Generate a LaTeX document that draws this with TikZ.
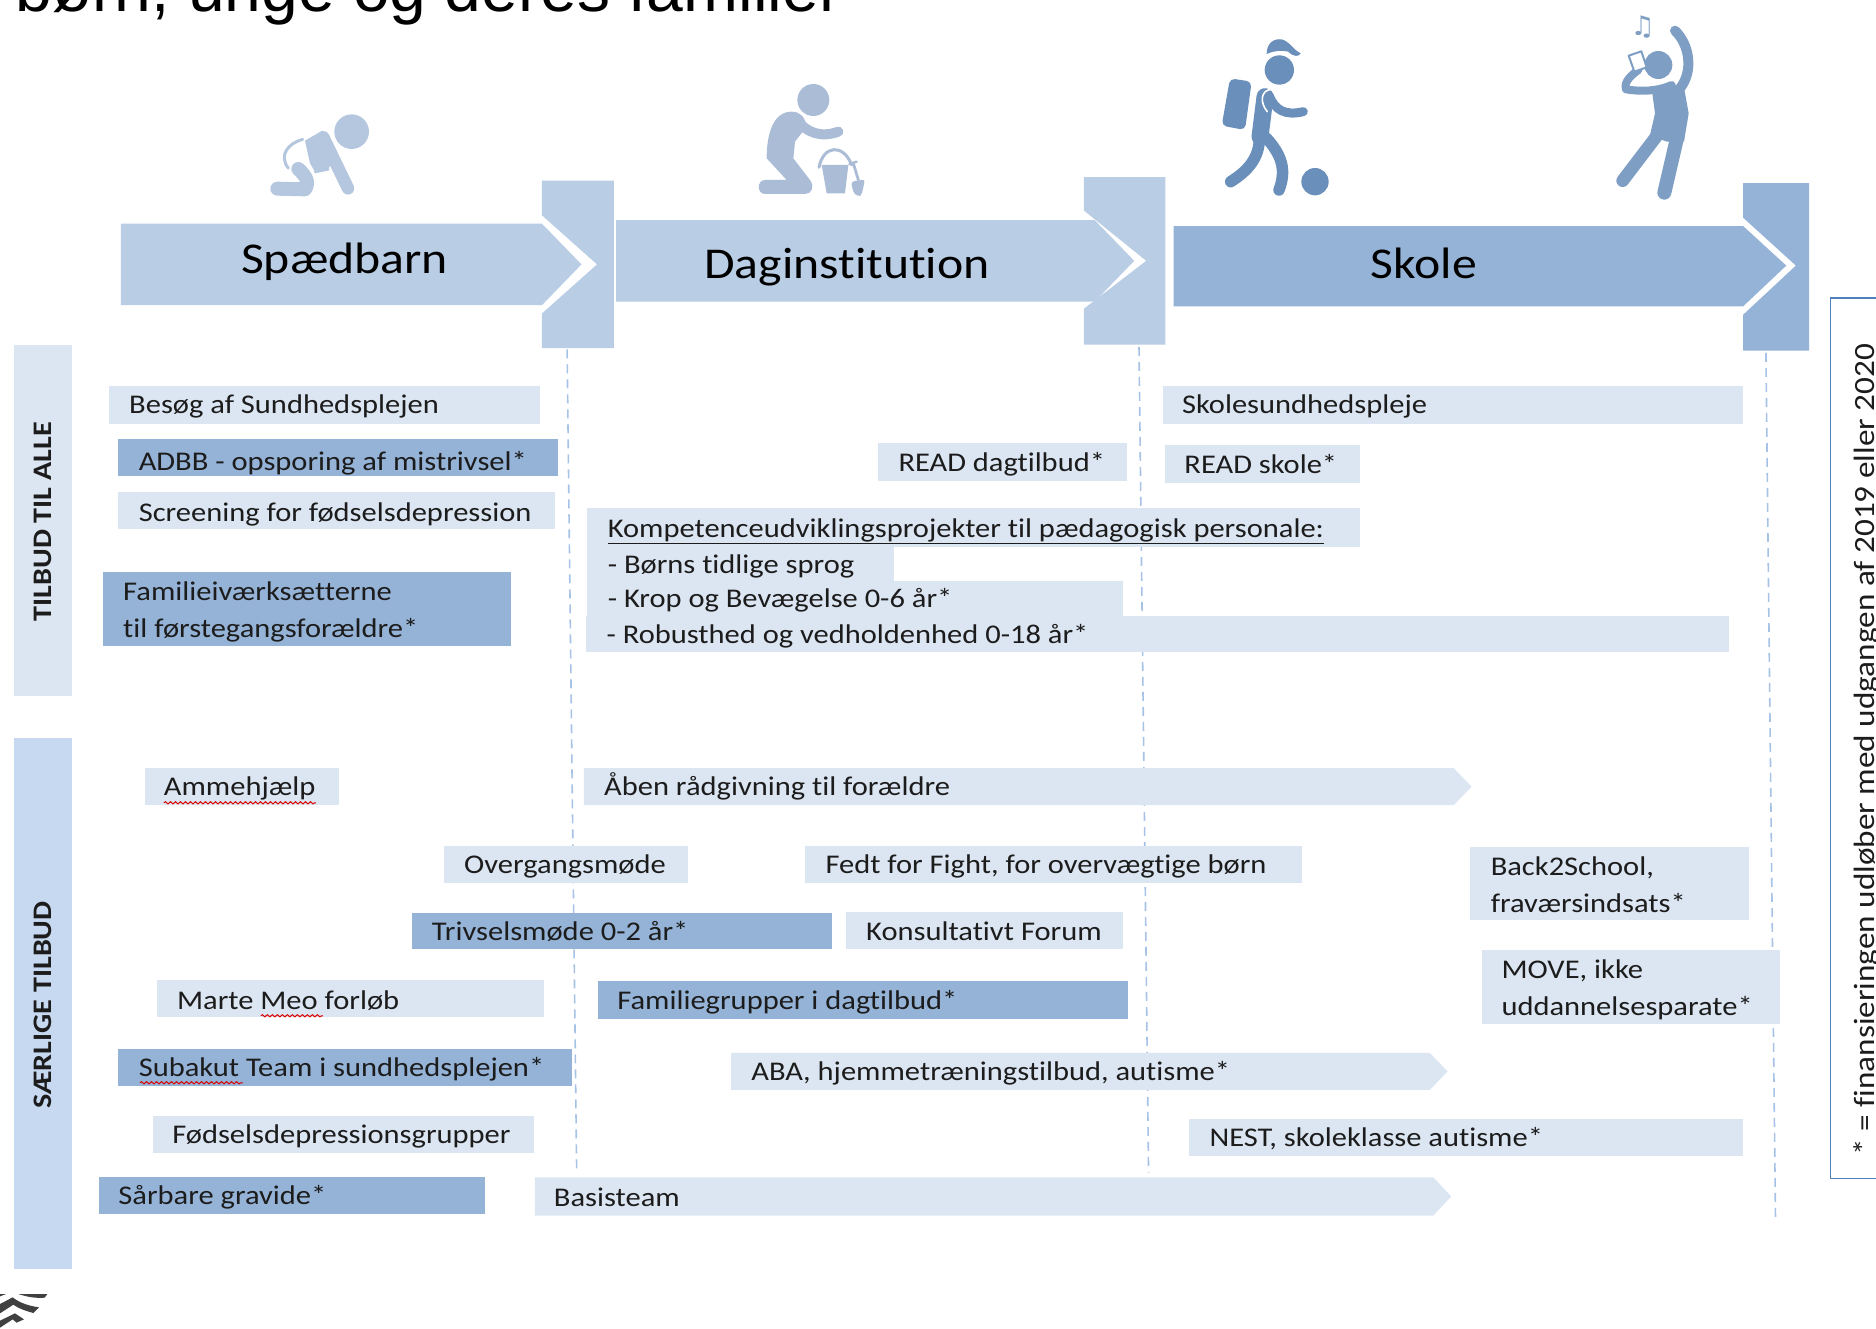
\documentclass[tikz,border=0pt]{standalone}
\usepackage{fontspec}
\usetikzlibrary{decorations.pathmorphing}
\setmainfont[FakeStretch=1.13,Ligatures=NoCommon]{Carlito}
\newfontfamily\titlefont{Liberation Sans}
\newfontfamily\symfont{DejaVu Sans}
\definecolor{lightbox}{HTML}{DCE6F2}
\definecolor{darkbox}{HTML}{95B3D7}
\definecolor{headlight}{HTML}{B9CDE5}
\definecolor{sidetop}{HTML}{DCE6F2}
\definecolor{sidebot}{HTML}{C6D9F1}
\definecolor{dashcol}{HTML}{A6C2E6}
\definecolor{framecol}{HTML}{4F81BD}
\definecolor{txt}{HTML}{1C1C1C}
\definecolor{icona}{HTML}{B5C7DF}
\definecolor{iconb}{HTML}{ABBDD6}
\definecolor{iconc}{HTML}{6A8FBB}
\definecolor{icond}{HTML}{7F9EC3}
\tikzset{
  lab/.style={anchor=base west,inner sep=0pt,outer sep=0pt,text=txt,font=\fontsize{27}{32}\selectfont},
  head/.style={anchor=base,inner sep=0pt,text=black,font=\fontsize{44}{50}\selectfont},
  sidelab/.style={rotate=90,inner sep=0pt,text=txt,font=\bfseries\fontsize{26.7}{30}\selectfont},
  dashline/.style={draw=dashcol,line width=1.6pt,dash pattern=on 9pt off 6pt},
  wavy/.style={draw=red!85!black,line width=1pt,decorate,decoration={snake,segment length=5pt,amplitude=1.1pt}},
  limb/.style={line cap=round,line join=round,line width=#1},
  icon/.style={shift={#1},x=0.33333pt,y=-0.33333pt}
}
\newcommand{\bx}[5]{\fill[#1] (#2,#3) rectangle (#4,#5);}
\newcommand{\pent}[6]{\fill[#1] (#2,#3) -- (#4,#3) -- (#6,{(#3+#5)/2}) -- (#4,#5) -- (#2,#5) -- cycle;}
\begin{document}
\begin{tikzpicture}[x=1.19643pt,y=-1.19643pt]
\useasboundingbox (0,0) rectangle (1568,1110);
\clip (0,0) rectangle (1568,1110);
% title
\node[anchor=base west,inner sep=0pt,text=black,font=\titlefont\fontsize{66}{70}\selectfont] (title) at (13,10) {børn, unge og deres familier};
% dashed guides
\draw[dashline] (474,292) -- (482,980);
\draw[dashline] (952,290) -- (960,980);
\draw[dashline] (1476,295) -- (1484,1020);
% head arrows
\fill[headlight] (101,187) -- (453,187) -- (486,221) -- (453,255) -- (101,255) -- cycle;
\fill[headlight] (453,151) -- (513,151) -- (513,291) -- (453,291) -- (453,262) -- (499,221) -- (453,180) -- cycle;
\fill[headlight] (515,184) -- (915,184) -- (948,218) -- (915,252) -- (515,252) -- cycle;
\fill[headlight] (906,148) -- (974,148) -- (974,288) -- (906,288) -- (906,258) -- (958,218) -- (906,176) -- cycle;
\fill[darkbox] (981,189) -- (1457,189) -- (1493,222) -- (1457,256) -- (981,256) -- cycle;
\fill[darkbox] (1457,153) -- (1512,153) -- (1512,293) -- (1457,293) -- (1457,263) -- (1501,222) -- (1457,182) -- cycle;
\node[head] (h1) at (288,229) {Spædbarn};
\node[head] (h2) at (708,233) {Daginstitution};
\node[head] (h3) at (1190,233) {Skole};
% side bars
\bx{sidetop}{12}{288}{60}{582}
\bx{sidebot}{12}{617}{60}{1061}
\node[sidelab] (s1) at (36,436) {TILBUD TIL ALLE};
\node[sidelab] (s2) at (36,840) {SÆRLIGE TILBUD};
% right frame
\draw[framecol,line width=1.3pt] (1568,249) -- (1530,249) -- (1530,985) -- (1568,985);
\node[rotate=90,anchor=base west,inner sep=0pt,text=txt,font=\fontsize{29.4}{34}\selectfont] (note) at (1567,966) {* = finansieringen udløber med udgangen af 2019 eller 2020};
% boxes
\bx{lightbox}{91}{323}{451}{354}
\node[lab] (a1) at (108,346) {Besøg af Sundhedsplejen};
\bx{darkbox}{99}{367}{466}{398}
\node[lab] (a2) at (116,393) {ADBB - opsporing af mistrivsel*};
\bx{lightbox}{99}{411}{464}{442}
\node[lab] (a3) at (116,436) {Screening for fødselsdepression};
\bx{darkbox}{86}{478}{427}{540}
\node[lab] (a4) at (103,502) {Familieiværksætterne};
\node[lab] (a5) at (103,533) {til førstegangsforældre*};
\bx{lightbox}{734}{370}{942}{402}
\node[lab] (b1) at (751,394) {READ dagtilbud*};
\bx{lightbox}{974}{372}{1137}{404}
\node[lab] (b2) at (990,396) {READ skole*};
\bx{lightbox}{972}{323}{1457}{354}
\node[lab] (b3) at (988,346) {Skolesundhedspleje};
\bx{lightbox}{491}{425}{1137}{457}
\bx{lightbox}{491}{457}{747}{486}
\bx{lightbox}{491}{486}{939}{515}
\bx{lightbox}{490}{515}{1445}{545}
\node[lab] (k1) at (508,449) {\underline{Kompetenceudviklingsprojekter til pædagogisk personale:}};
\node[lab] (k2) at (508,479) {- Børns tidlige sprog};
\node[lab] (k3) at (508,508) {- Krop og Bevægelse 0-6 år*};
\node[lab] (k4) at (507,538) {- Robusthed og vedholdenhed 0-18 år*};
\pent{lightbox}{488}{642}{1215}{673}{1230}
\node[lab] (c1) at (505,665) {Åben rådgivning til forældre};
\bx{lightbox}{121}{642}{283}{673}
\node[lab] (c2) at (137,665) {Ammehjælp};
\bx{lightbox}{371}{707}{575}{738}
\node[lab] (c3) at (388,730) {Overgangsmøde};
\bx{lightbox}{673}{707}{1088}{738}
\node[lab] (c4) at (690,730) {Fedt for Fight, for overvægtige børn};
\bx{lightbox}{1229}{708}{1462}{769}
\node[lab] (c5) at (1246,732) {Back2School,};
\node[lab] (c6) at (1246,763) {fraværsindsats*};
\bx{darkbox}{344}{763}{695}{793}
\node[lab] (c7) at (361,786) {Trivselsmøde 0-2 år*};
\bx{lightbox}{707}{762}{939}{793}
\node[lab] (c8) at (724,786) {Konsultativt Forum};
\bx{lightbox}{1239}{794}{1488}{856}
\node[lab] (c9) at (1255,818) {MOVE, ikke};
\node[lab] (c10) at (1255,849) {uddannelsesparate*};
\bx{lightbox}{131}{819}{455}{850}
\node[lab] (d1) at (148,844) {Marte Meo forløb};
\bx{darkbox}{500}{820}{943}{852}
\node[lab] (d2) at (516,844) {Familiegrupper i dagtilbud*};
\bx{darkbox}{99}{877}{478}{908}
\node[lab] (d3) at (116,900) {Subakut Team i sundhedsplejen*};
\pent{lightbox}{611}{880}{1195}{911}{1210}
\node[lab] (d4) at (628,903) {ABA, hjemmetræningstilbud, autisme*};
\bx{lightbox}{128}{933}{446}{964}
\node[lab] (d5) at (144,956) {Fødselsdepressionsgrupper};
\bx{lightbox}{994}{935}{1457}{966}
\node[lab] (d6) at (1011,958) {NEST, skoleklasse autisme*};
\bx{darkbox}{83}{984}{405}{1015}
\node[lab] (d7) at (99,1007) {Sårbare gravide*};
\pent{lightbox}{447}{984}{1198}{1016}{1213}
\node[lab] (d8) at (463,1008) {Basisteam};
% spell-check underlines
\draw[wavy] (137,671) -- (264,671);
\draw[wavy] (218,849) -- (270,849);
\draw[wavy] (117,905) -- (203,905);
% baby icon
\begin{scope}[icon={(260/1.19643,100/1.19643)}]
\fill[icona] (275,95) circle[radius=52];
\fill[icona] (135,122) -- (185,93) -- (228,165) -- (205,207) -- (165,216) -- (150,190) -- cycle;
\draw[icona,limb=12.5pt] (190,112) -- (264,265);
\draw[icona,line width=3pt,line cap=round] (128,118) .. controls (85,130) and (55,165) .. (85,205);
\draw[icona,line width=2.5pt,line cap=round] (165,216) -- (205,208);
\draw[icona,limb=14pt] (115,207) .. controls (135,225) and (150,245) .. (135,268) -- (52,266);
\end{scope}
% sand-play child
\begin{scope}[icon={(750/1.19643,70/1.19643)}]
\fill[iconb] (190,90) circle[radius=48];
\fill[iconb] (50,265) .. controls (50,190) and (70,125) .. (125,125) .. controls (150,125) and (165,140) .. (170,170) -- (135,215) -- (130,265) -- (180,330) .. controls (195,350) and (185,372) .. (165,372) -- (45,372) .. controls (20,372) and (20,330) .. (45,330) -- (110,330) -- cycle;
\draw[iconb,limb=10pt] (145,155) .. controls (170,185) and (210,205) .. (265,185);
\fill[iconb] (215,285) -- (295,285) -- (285,370) -- (230,370) -- cycle;
\draw[iconb,line width=3pt,line cap=round] (207,292) .. controls (220,225) and (280,220) .. (305,285);
\draw[iconb,line width=2.8pt,line cap=round] (310,280) -- (325,330);
\draw[iconb,line width=2.4pt,line cap=round] (298,282) -- (320,275);
\fill[iconb,rounded corners=3pt] (303,335) -- (345,328) -- (335,375) -- (325,380) -- (310,368) -- cycle;
\end{scope}
% school child
\begin{scope}[icon={(1210/1.19643,30/1.19643)}]
\fill[iconc] (208,120) circle[radius=44];
\fill[iconc] (170,72) .. controls (170,40) and (190,25) .. (215,28) .. controls (240,35) and (250,60) .. (272,70) .. controls (268,80) and (250,82) .. (235,65) .. controls (215,60) and (190,62) .. (170,72) -- cycle;
\fill[iconc,rounded corners=5pt] (60,145) -- (125,155) -- (105,300) -- (35,287) -- cycle;
\draw[iconc,limb=17pt] (165,200) -- (150,320);
\draw[iconc,limb=11.5pt] (148,320) .. controls (150,385) and (110,425) .. (62,455);
\draw[iconc,limb=11.5pt] (170,325) .. controls (215,375) and (230,420) .. (207,480);
\draw[iconc,limb=9pt] (178,198) .. controls (195,240) and (225,258) .. (280,245);
\draw[white,line width=1.6pt,line cap=round] (185,178) .. controls (150,180) and (150,220) .. (172,245);
\fill[iconc] (315,455) circle[radius=41];
\end{scope}
% teen
\begin{scope}[icon={(1600/1.19643,10/1.19643)}]
\fill[icond] (175,165) circle[radius=42];
\fill[icond] (155,235) -- (250,222) -- (266,310) -- (252,395) -- (200,395) -- (150,375) -- (165,310) -- cycle;
\draw[icond,limb=12.7pt] (180,365) -- (68,512);
\draw[icond,limb=14pt] (232,380) -- (193,548);
\draw[icond,limb=10pt] (225,62) .. controls (270,105) and (280,185) .. (240,235);
\draw[icond,limb=8pt] (215,225) .. controls (170,245) and (120,245) .. (78,238) .. controls (70,215) and (95,195) .. (115,180);
\draw[icond,fill=white,line width=2pt,line join=round] (86,137) -- (124,124) -- (140,172) -- (103,185) -- cycle;
\node[inner sep=0pt,text=icond,font=\symfont\fontsize{27}{27}\selectfont] (note2) at (128,52) {♫};
\end{scope}
% logo fragment
\begin{scope}[icon={(0,1280/1.19643)}]
\fill[black!75] (0,42) -- (18,42) -- (0,49) -- cycle;
\fill[black!75] (55,42) -- (142,42) -- (134,53) .. controls (110,55) and (85,52) .. (55,42) -- cycle;
\fill[black!75] (0,72) -- (38,52) .. controls (60,70) and (90,78) .. (117,82) -- (100,99) .. controls (75,92) and (55,85) .. (40,74) -- (0,100) -- cycle;
\fill[black!75] (0,122) -- (45,100) -- (72,118) -- (50,128) -- (38,118) -- (0,143) -- cycle;
\end{scope}
\end{tikzpicture}
\end{document}
